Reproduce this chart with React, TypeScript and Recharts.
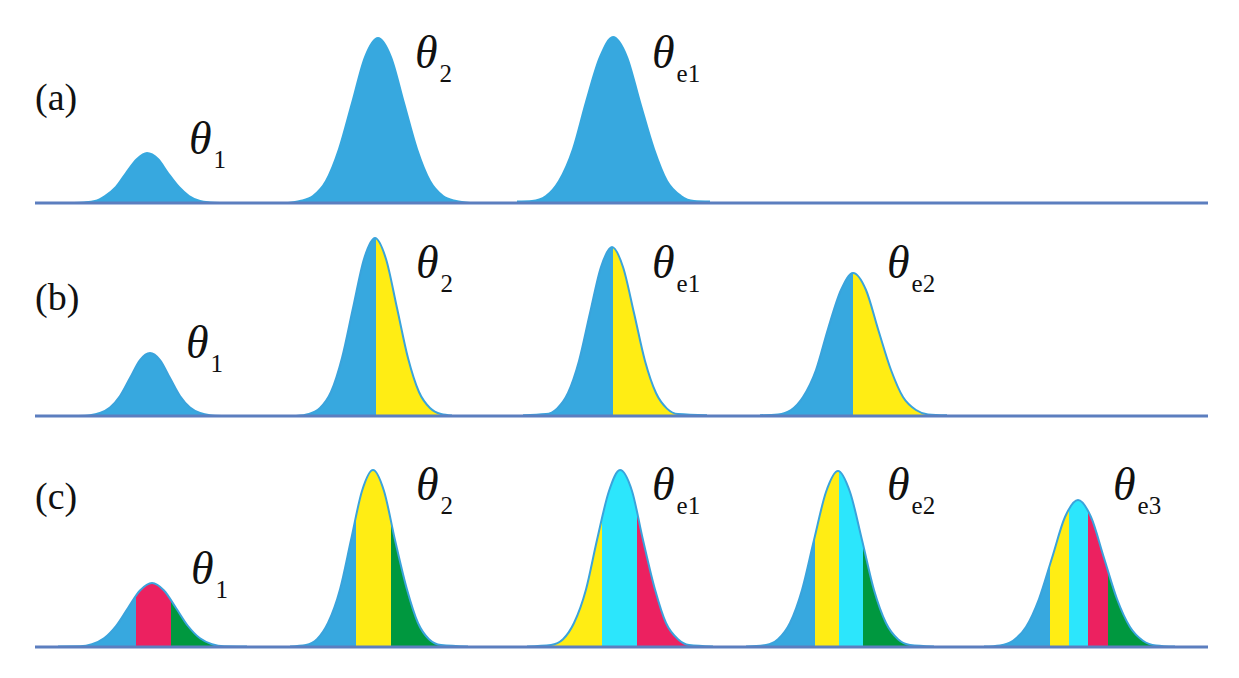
import { ComposedChart, Area, XAxis, YAxis, ReferenceLine } from "recharts";

const W = 1239;
const H = 678;

const BLUE = "#37A8DF";
const YELLOW = "#FFED14";
const RED = "#EC2160";
const GREEN = "#00983F";
const CYAN = "#2CE6FC";
const OUTLINE = "#3AA3DC";
const BASELINE = "#5C7EBF";

// horizontal extent of the axis line (data units)
const AXIS_START = 35;
const AXIS_END = 1208;

// ---- row (a) ----
const A_T1_X = [74, 84, 95, 105, 116, 126, 137, 147, 158, 168, 179, 189, 200, 210, 220];
const A_T1_Y = [0, 0.5, 2, 7, 16, 30, 44, 50, 44, 30, 16, 7, 2, 0.5, 0];
const A_T2_X = [288, 300, 313, 326, 339, 352, 365, 378, 391, 404, 417, 430, 443, 456, 470];
const A_T2_Y = [0, 2, 7, 22, 54, 100, 146, 165, 146, 100, 54, 22, 7, 2, 0];
const A_TE1_X = [517, 532, 546, 559, 573, 586, 600, 613, 627, 640, 654, 667, 681, 694, 710];
const A_TE1_Y = [1.5, 2, 7, 22, 54, 101, 146, 166, 146, 101, 54, 22, 7, 2, 1.5];

// ---- row (b) ----
const B_T1_X = [78, 90, 100, 110, 120, 130, 140, 150, 160, 170, 180, 190, 200, 210, 222];
const B_T1_Y = [0, 0.7, 3, 8.5, 20, 38, 56, 63, 56, 38, 20, 8.5, 3, 0.7, 0];
const B_T2_X = [296, 309, 320, 331, 342, 353, 364, 375, 386, 397, 408, 419, 430, 441, 452];
const B_T2_Y = [0, 2, 8, 24, 58, 108, 157, 178, 157, 108, 58, 24, 8, 2, 0.5];
const B_TE1_X = [523, 546, 557, 568, 579, 590, 601, 612, 623, 634, 645, 656, 667, 678, 707];
const B_TE1_Y = [0.8, 1.9, 7.4, 23, 55, 103, 149, 169, 149, 103, 55, 23, 7.4, 1.9, 0.8];
const B_TE2_X = [760, 778, 791, 803, 816, 828, 841, 853, 866, 878, 891, 903, 916, 928, 947];
const B_TE2_Y = [0.8, 1.6, 6, 19, 46, 87, 126, 143, 126, 87, 46, 19, 6, 1.6, 0.8];

// ---- row (c) ----
const C_T1_X = [58, 80, 92, 104, 116, 128, 140, 152, 164, 176, 188, 200, 212, 224, 247];
const C_T1_Y = [0.5, 0.7, 2.8, 8.7, 21, 39, 56.5, 64, 56.5, 39, 21, 8.7, 2.8, 0.7, 0.5];
const C_T2_X = [290, 306, 317, 328, 340, 351, 362, 373, 384, 395, 407, 418, 429, 441, 468];
const C_T2_Y = [0.5, 2, 7.8, 24, 57.5, 107, 156, 177, 156, 107, 57.5, 24, 7.8, 2, 0.5];
const C_TE1_X = [527, 551, 563, 574, 586, 597, 609, 620, 632, 643, 655, 666, 678, 689, 713];
const C_TE1_Y = [0.5, 2, 7.8, 24, 57.5, 107, 156, 177, 156, 107, 57.5, 24, 7.8, 2, 0.5];
const C_TE2_X = [746, 766, 778, 790, 802, 814, 826, 838, 850, 862, 874, 886, 898, 910, 934];
const C_TE2_Y = [0.5, 2, 7.7, 24, 57, 107, 155, 176, 155, 107, 57, 24, 7.7, 2, 0.5];
const C_TE3_X = [984, 1000, 1013, 1026, 1039, 1052, 1065, 1078, 1091, 1104, 1117, 1130, 1143, 1156, 1175];
const C_TE3_Y = [0.5, 1.6, 6.3, 20, 48, 89, 130, 147, 130, 89, 48, 20, 6.3, 1.6, 0.5];

// where the fill colour changes inside each curve
const B_T2_SPLIT = [376];
const B_TE1_SPLIT = [613];
const B_TE2_SPLIT = [853];
const C_T1_SPLIT = [136, 171];
const C_T2_SPLIT = [356, 391];
const C_TE1_SPLIT = [602, 637];
const C_TE2_SPLIT = [815, 839, 863];
const C_TE3_SPLIT = [1050, 1069, 1088, 1108];

const PANEL_LABELS = ["(a)", "(b)", "(c)"];

interface Bump {
  id: string;
  xs: number[];
  ys: number[];
  splits: number[];
  colors: string[];
}

const ROW_A: Bump[] = [
  { id: "a1", xs: A_T1_X, ys: A_T1_Y, splits: [], colors: [BLUE] },
  { id: "a2", xs: A_T2_X, ys: A_T2_Y, splits: [], colors: [BLUE] },
  { id: "ae1", xs: A_TE1_X, ys: A_TE1_Y, splits: [], colors: [BLUE] },
];

const ROW_B: Bump[] = [
  { id: "b1", xs: B_T1_X, ys: B_T1_Y, splits: [], colors: [BLUE] },
  { id: "b2", xs: B_T2_X, ys: B_T2_Y, splits: B_T2_SPLIT, colors: [BLUE, YELLOW] },
  { id: "be1", xs: B_TE1_X, ys: B_TE1_Y, splits: B_TE1_SPLIT, colors: [BLUE, YELLOW] },
  { id: "be2", xs: B_TE2_X, ys: B_TE2_Y, splits: B_TE2_SPLIT, colors: [BLUE, YELLOW] },
];

const ROW_C: Bump[] = [
  { id: "c1", xs: C_T1_X, ys: C_T1_Y, splits: C_T1_SPLIT, colors: [BLUE, RED, GREEN] },
  { id: "c2", xs: C_T2_X, ys: C_T2_Y, splits: C_T2_SPLIT, colors: [BLUE, YELLOW, GREEN] },
  { id: "ce1", xs: C_TE1_X, ys: C_TE1_Y, splits: C_TE1_SPLIT, colors: [YELLOW, CYAN, RED] },
  { id: "ce2", xs: C_TE2_X, ys: C_TE2_Y, splits: C_TE2_SPLIT, colors: [BLUE, YELLOW, CYAN, GREEN] },
  { id: "ce3", xs: C_TE3_X, ys: C_TE3_Y, splits: C_TE3_SPLIT, colors: [BLUE, YELLOW, CYAN, RED, GREEN] },
];

// theta labels: subscript text + where to put them
const THETA_LABELS = [
  { sub: "1", x: 189, y: 154 },
  { sub: "2", x: 415, y: 68 },
  { sub: "e1", x: 652, y: 68 },
  { sub: "1", x: 186, y: 358 },
  { sub: "2", x: 416, y: 278 },
  { sub: "e1", x: 652, y: 278 },
  { sub: "e2", x: 887, y: 278 },
  { sub: "1", x: 191, y: 584 },
  { sub: "2", x: 416, y: 500 },
  { sub: "e1", x: 652, y: 500 },
  { sub: "e2", x: 887, y: 500 },
  { sub: "e3", x: 1113, y: 500 },
];
const PANEL_POS = [
  { x: 35, y: 110 },
  { x: 35, y: 310 },
  { x: 35, y: 509 },
];

const toPoints = (xs: number[], ys: number[]) => xs.map((x, i) => ({ x, y: ys[i] }));

function BumpGradient({ bump }: { bump: Bump }) {
  const x0 = bump.xs[0];
  const xN = bump.xs[bump.xs.length - 1];
  const edges = [x0, ...bump.splits, xN];
  const off = (v: number) => `${((v - x0) / (xN - x0)) * 100}%`;
  return (
    <linearGradient id={`g-${bump.id}`} x1="0" y1="0" x2="1" y2="0">
      {bump.colors.map((c, i) => [
        <stop key={`${i}a`} offset={off(edges[i])} stopColor={c} />,
        <stop key={`${i}b`} offset={off(edges[i + 1])} stopColor={c} />,
      ])}
    </linearGradient>
  );
}

function Row({
  top,
  height,
  bottom,
  bumps,
  outline,
}: {
  top: number;
  height: number;
  bottom: number;
  bumps: Bump[];
  outline: string;
}) {
  const plotH = height - bottom;
  return (
    <div style={{ position: "absolute", left: 0, top }}>
      <ComposedChart width={W} height={height} margin={{ top: 0, right: 0, bottom, left: 0 }}>
        <defs>
          {bumps.map((b) => (
            <BumpGradient key={b.id} bump={b} />
          ))}
        </defs>
        <XAxis type="number" dataKey="x" domain={[0, W]} hide allowDataOverflow />
        <YAxis type="number" domain={[0, plotH]} hide allowDataOverflow />
        {bumps.map((b) => (
          <Area
            key={b.id}
            name={b.id}
            data={toPoints(b.xs, b.ys)}
            dataKey="y"
            type="monotone"
            fill={`url(#g-${b.id})`}
            fillOpacity={1}
            stroke={outline}
            strokeWidth={2}
            dot={false}
            activeDot={false}
            isAnimationActive={false}
          />
        ))}
        <ReferenceLine
          segment={[
            { x: AXIS_START, y: 0 },
            { x: AXIS_END, y: 0 },
          ]}
          stroke={BASELINE}
          strokeWidth={3}
        />
      </ComposedChart>
    </div>
  );
}

const SERIF = "Liberation Serif, Tinos, Times, DejaVu Serif";

export default function App() {
  return (
    <div style={{ position: "absolute", left: 0, top: 0, width: W, height: H, background: "#fff" }}>
      <Row top={0} height={215} bottom={12} bumps={ROW_A} outline={BLUE} />
      <Row top={215} height={210} bottom={9} bumps={ROW_B} outline={OUTLINE} />
      <Row top={425} height={253} bottom={31} bumps={ROW_C} outline={OUTLINE} />
      <svg
        width={W}
        height={H}
        style={{ position: "absolute", left: 0, top: 0, pointerEvents: "none", fontFamily: SERIF }}
      >
        {PANEL_LABELS.map((t, i) => (
          <text
            key={t}
            x={PANEL_POS[i].x}
            y={PANEL_POS[i].y}
            fontFamily={SERIF}
            fontSize={38}
            fill="#111"
          >
            {t}
          </text>
        ))}
        {THETA_LABELS.map((l, i) => (
          <text key={i} x={l.x} y={l.y} fontFamily={SERIF} fill="#111">
            <tspan fontFamily={SERIF} fontSize={46} fontStyle="italic">
              θ
            </tspan>
            <tspan fontFamily={SERIF} fontSize={25} dx={2} dy={14}>
              {l.sub}
            </tspan>
          </text>
        ))}
      </svg>
    </div>
  );
}
